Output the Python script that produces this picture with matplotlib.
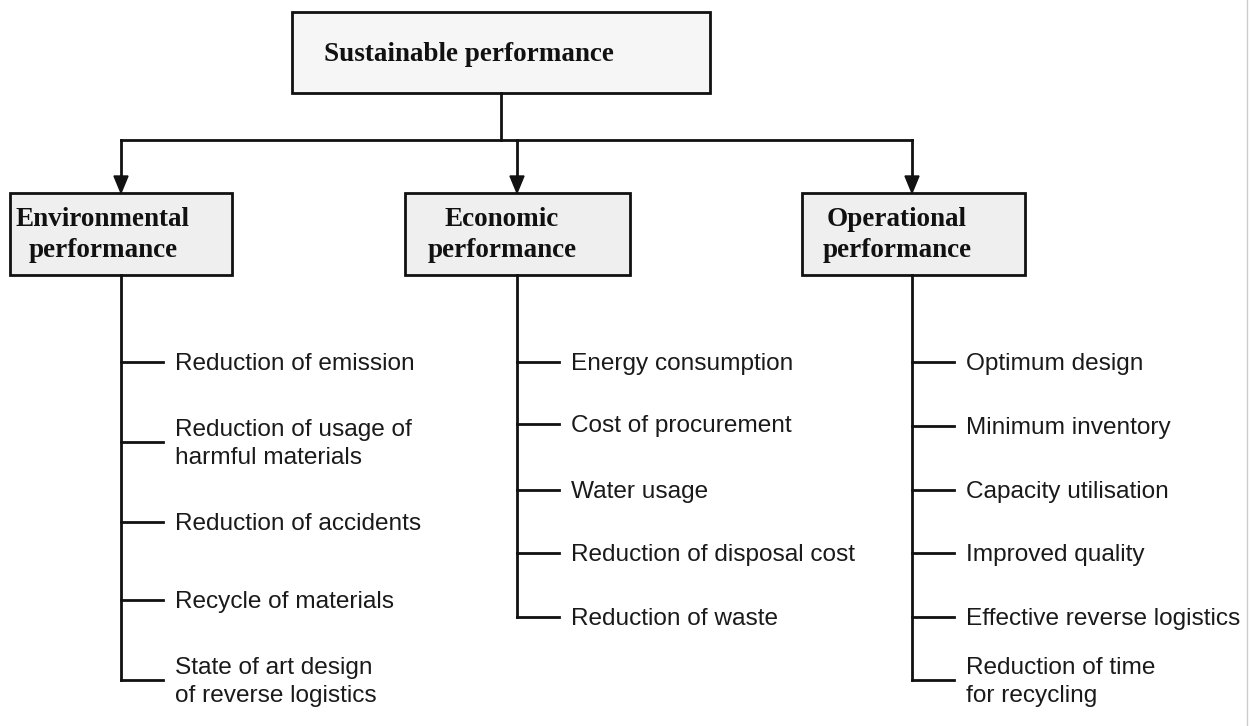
import matplotlib.pyplot as plt
from matplotlib.patches import Rectangle, Polygon

# labels
root_label = "Sustainable performance"
group_labels = ["Environmental\nperformance", "Economic\nperformance", "Operational\nperformance"]
env_items = [
    "Reduction of emission",
    "Reduction of usage of\nharmful materials",
    "Reduction of accidents",
    "Recycle of materials",
    "State of art design\nof reverse logistics",
]
eco_items = [
    "Energy consumption",
    "Cost of procurement",
    "Water usage",
    "Reduction of disposal cost",
    "Reduction of waste",
]
ops_items = [
    "Optimum design",
    "Minimum inventory",
    "Capacity utilisation",
    "Improved quality",
    "Effective reverse logistics",
    "Reduction of time\nfor recycling",
]

# layout (pixel coords, y down)
W, H = 1250, 726
root_box = (292, 12, 710, 93)
root_text_x = 469
group_boxes = [(10, 193, 232, 275), (405, 193, 630, 275), (802, 193, 1025, 275)]
group_text_x = [103, 502, 897]
trunk_x = [121, 517, 912]
bus_y = 140
root_stem_x = 501
item_y = [
    [362, 442, 522, 600, 680],
    [362, 424, 490, 553, 617],
    [362, 426, 490, 553, 617, 680],
]
branch_len = 42
text_gap = 12

lc = "#111111"
lw = 2.0
serif = ["Liberation Serif", "DejaVu Serif"]
sans = ["Liberation Sans", "DejaVu Sans"]

fig = plt.figure(figsize=(W / 100, H / 100), dpi=100)
ax = fig.add_axes([0, 0, 1, 1])
ax.set_xlim(0, W)
ax.set_ylim(H, 0)
ax.axis("off")


def box(b, fc):
    x0, y0, x1, y1 = b
    ax.add_patch(Rectangle((x0, y0), x1 - x0, y1 - y0, facecolor=fc,
                           edgecolor=lc, linewidth=lw, zorder=2))


box(root_box, "#f6f6f6")
ax.text(root_text_x, (root_box[1] + root_box[3]) / 2 + 2, root_label, ha="center",
        va="center", fontsize=19.5, fontweight="bold", family=serif, color=lc)

# connector from root to groups
ax.plot([root_stem_x, root_stem_x], [root_box[3], bus_y], color=lc, lw=lw)
ax.plot([trunk_x[0], trunk_x[-1]], [bus_y, bus_y], color=lc, lw=lw)
for gx, gb in zip(trunk_x, group_boxes):
    ax.plot([gx, gx], [bus_y, gb[1] - 14], color=lc, lw=lw)
    ax.add_patch(Polygon([(gx - 7, gb[1] - 17), (gx + 7, gb[1] - 17), (gx, gb[1])],
                         closed=True, facecolor=lc, edgecolor=lc, zorder=3))

all_items = [env_items, eco_items, ops_items]
for gb, gtx, gx, glabel, items, ys in zip(group_boxes, group_text_x, trunk_x,
                                          group_labels, all_items, item_y):
    box(gb, "#efefef")
    ax.text(gtx, (gb[1] + gb[3]) / 2 + 1, glabel, ha="center", va="center",
            fontsize=19.5, fontweight="bold", family=serif, color=lc,
            linespacing=1.32, zorder=3)
    ax.plot([gx, gx], [gb[3], ys[-1]], color=lc, lw=lw)
    for label, y in zip(items, ys):
        ax.plot([gx, gx + branch_len], [y, y], color=lc, lw=lw)
        ax.text(gx + branch_len + text_gap, y + 2, label, ha="left", va="center",
                fontsize=17.6, family=sans, color="#1a1a1a", linespacing=1.38)

# faint frame line at right edge
ax.plot([1247, 1247], [0, H], color="#cccccc", lw=1)

fig.savefig("out.png", dpi=100, facecolor="white")
